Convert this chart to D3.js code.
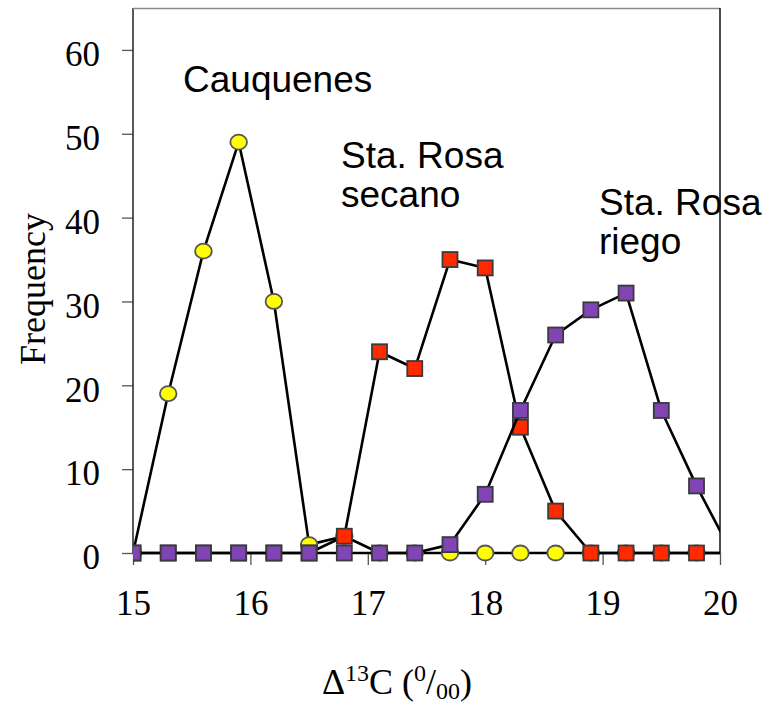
<!DOCTYPE html>
<html>
<head>
<meta charset="utf-8">
<script src="https://cdn.jsdelivr.net/npm/d3@7"></script>
<style>
  body { margin: 0; background: #fff; }
  svg { display: block; }
  .tick-label { font-family: "Liberation Serif", "Times New Roman", serif; font-size: 35px; fill: #000; }
  .axis-title { font-family: "Liberation Serif", "Times New Roman", serif; font-size: 36px; fill: #000; }
  .note { font-family: "Liberation Sans", Arial, sans-serif; font-size: 37px; fill: #000; }
</style>
</head>
<body>
<div id="chart"></div>
<script>
// Δ13C classes (per mil)
const delta = [15, 15.3, 15.6, 15.9, 16.2, 16.5, 16.8, 17.1, 17.4, 17.7, 18.0, 18.3, 18.6, 18.9, 19.2, 19.5, 19.8, 20.1];

const cauquenes   = [0, 19, 36, 49, 30, 1, 2, 0, 0, 0, 0, 0, 0, 0, 0, 0, 0, 0];
const rosaSecano  = [0, 0, 0, 0, 0, 0, 2, 24, 22, 35, 34, 15, 5, 0, 0, 0, 0, 0];
const rosaRiego   = [0, 0, 0, 0, 0, 0, 0, 0, 0, 1, 7, 17, 26, 29, 31, 17, 8, 0];

const xTicks = [15, 16, 17, 18, 19, 20];
const yTicks = [0, 10, 20, 30, 40, 50, 60];

const W = 776, H = 707;
const M = { left: 133, right: 720, top: 8, bottom: 553 };

const x = d3.scaleLinear().domain([15, 20]).range([M.left, M.right]);
const y = d3.scaleLinear().domain([0, 65]).range([M.bottom, M.top]);

const svg = d3.select('#chart').append('svg')
  .attr('width', W)
  .attr('height', H);

svg.append('defs').append('clipPath')
  .attr('id', 'plot-clip')
  .append('rect')
  .attr('x', M.left).attr('y', 0)
  .attr('width', M.right - M.left).attr('height', M.bottom + 20);

// ── Axes ────────────────────────────────────────────────────────────────────

const yAxis = svg.append('g')
  .attr('transform', `translate(${M.left},0)`)
  .call(d3.axisLeft(y).tickValues(yTicks).tickFormat(d3.format('d'))
    .tickSize(11).tickPadding(22).tickSizeOuter(0));
yAxis.select('.domain').remove();
yAxis.selectAll('.tick line').attr('stroke', '#555').attr('stroke-width', 1.3);
yAxis.selectAll('.tick text')
  .attr('class', 'tick-label')
  .attr('dy', '0.45em');

const xAxis = svg.append('g')
  .attr('transform', `translate(0,${M.bottom})`)
  .call(d3.axisBottom(x).tickValues(xTicks).tickFormat(d3.format('d'))
    .tickSize(12).tickPadding(25).tickSizeOuter(0));
xAxis.select('.domain').remove();
xAxis.selectAll('.tick line').attr('stroke', '#555').attr('stroke-width', 1.3);
xAxis.selectAll('.tick text').attr('class', 'tick-label');

// frame: left axis, top (grey), bottom
svg.append('line')
  .attr('x1', M.left).attr('x2', M.left)
  .attr('y1', M.top).attr('y2', M.bottom)
  .attr('stroke', '#222').attr('stroke-width', 1.5);

svg.append('line')
  .attr('x1', M.left).attr('x2', M.right)
  .attr('y1', M.top + 0.5).attr('y2', M.top + 0.5)
  .attr('stroke', '#8a8a8a').attr('stroke-width', 1.5);

svg.append('line')
  .attr('x1', M.left).attr('x2', M.right)
  .attr('y1', M.bottom).attr('y2', M.bottom)
  .attr('stroke', '#000').attr('stroke-width', 1.5);

// ── Annotations (drawn under the right border) ─────────────────────────────

svg.append('text').attr('class', 'note').attr('x', 183).attr('y', 92).text('Cauquenes');

const t1 = svg.append('text').attr('class', 'note').attr('x', 341).attr('y', 168);
t1.append('tspan').text('Sta. Rosa');
t1.append('tspan').attr('x', 341).attr('dy', 39).text('secano');

const t2 = svg.append('text').attr('class', 'note').attr('x', 599).attr('y', 215);
t2.append('tspan').text('Sta. Rosa');
t2.append('tspan').attr('x', 599).attr('dy', 39).text('riego');

svg.append('line')
  .attr('x1', M.right).attr('x2', M.right)
  .attr('y1', M.top).attr('y2', M.bottom)
  .attr('stroke', '#111').attr('stroke-width', 1.5);

// ── Series ──────────────────────────────────────────────────────────────────

const series = [
  { name: 'Cauquenes', values: cauquenes, shape: 'circle', fill: '#ffff00' },
  { name: 'Sta. Rosa secano', values: rosaSecano, shape: 'square', fill: '#ff2a00' },
  { name: 'Sta. Rosa riego', values: rosaRiego, shape: 'square', fill: '#8044b4' }
];

const line = d3.line()
  .x(d => x(d.x))
  .y(d => y(d.y));

const gPlot = svg.append('g').attr('clip-path', 'url(#plot-clip)');

series.forEach(s => {
  const pts = delta.map((d, i) => ({ x: d, y: s.values[i] }));
  const g = gPlot.append('g').attr('class', 'series');

  g.append('path')
    .datum(pts)
    .attr('d', line)
    .attr('fill', 'none')
    .attr('stroke', '#000')
    .attr('stroke-width', 2.6)
    .attr('stroke-linejoin', 'round');

  const visible = pts.filter(p => p.x <= 20);
  if (s.shape === 'circle') {
    g.selectAll('ellipse')
      .data(visible)
      .join('ellipse')
      .attr('cx', d => x(d.x))
      .attr('cy', d => y(d.y))
      .attr('rx', 8.3)
      .attr('ry', 7.5)
      .attr('fill', s.fill)
      .attr('stroke', '#555')
      .attr('stroke-width', 1.8);
  } else {
    g.selectAll('rect')
      .data(visible)
      .join('rect')
      .attr('x', d => x(d.x) - 7.5)
      .attr('y', d => y(d.y) - 7.5)
      .attr('width', 15)
      .attr('height', 15)
      .attr('fill', s.fill)
      .attr('stroke', '#3a3a3a')
      .attr('stroke-width', 1.8);
  }
});

// ── Axis titles ─────────────────────────────────────────────────────────────

svg.append('text')
  .attr('class', 'axis-title')
  .attr('transform', 'translate(45,289) rotate(-90)')
  .attr('text-anchor', 'middle')
  .text('Frequency');

const xt = svg.append('text')
  .attr('class', 'axis-title')
  .attr('x', 397).attr('y', 694)
  .attr('text-anchor', 'middle');
xt.append('tspan').text('\u0394');
xt.append('tspan').attr('font-size', '24px').attr('dy', -13).text('13');
xt.append('tspan').attr('dy', 13).text('C (');
xt.append('tspan').attr('font-size', '24px').attr('dy', -13).text('0');
xt.append('tspan').attr('dy', 13).text('/');
xt.append('tspan').attr('font-size', '24px').attr('dy', 5).text('00');
xt.append('tspan').attr('dy', -5).text(')');
</script>
</body>
</html>
